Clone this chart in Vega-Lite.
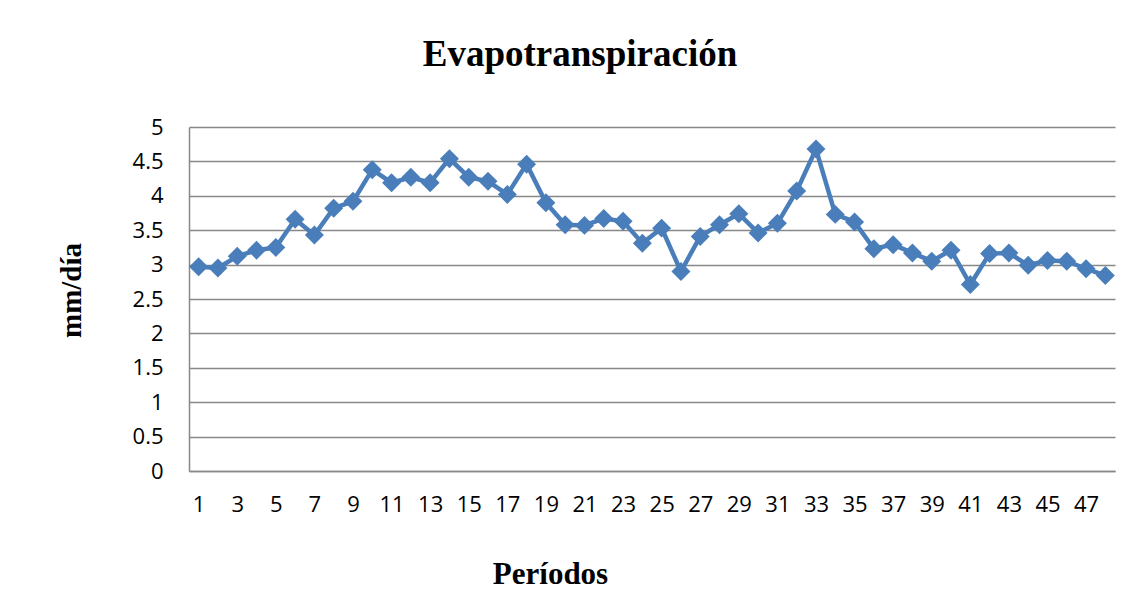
{
  "$schema": "https://vega.github.io/schema/vega-lite/v6.json",
  "autosize": {"type": "none"},
  "width": 926,
  "height": 344,
  "padding": {"left": 189, "top": 127, "right": 29, "bottom": 136},
  "background": "white",
  "title": {
    "text": "Evapotranspiración",
    "font": "Liberation Serif",
    "fontSize": 37,
    "fontWeight": "bold",
    "color": "black",
    "anchor": "middle",
    "frame": "group",
    "baseline": "alphabetic",
    "offset": 13,
    "dx": -72
  },
  "data": {
    "values": [
      {"p": 1, "v": 2.97}, {"p": 2, "v": 2.95}, {"p": 3, "v": 3.12}, {"p": 4, "v": 3.21},
      {"p": 5, "v": 3.25}, {"p": 6, "v": 3.66}, {"p": 7, "v": 3.43}, {"p": 8, "v": 3.82},
      {"p": 9, "v": 3.92}, {"p": 10, "v": 4.38}, {"p": 11, "v": 4.19}, {"p": 12, "v": 4.27},
      {"p": 13, "v": 4.19}, {"p": 14, "v": 4.54}, {"p": 15, "v": 4.27}, {"p": 16, "v": 4.21},
      {"p": 17, "v": 4.02}, {"p": 18, "v": 4.46}, {"p": 19, "v": 3.9}, {"p": 20, "v": 3.58},
      {"p": 21, "v": 3.57}, {"p": 22, "v": 3.67}, {"p": 23, "v": 3.63}, {"p": 24, "v": 3.31},
      {"p": 25, "v": 3.53}, {"p": 26, "v": 2.9}, {"p": 27, "v": 3.41}, {"p": 28, "v": 3.58},
      {"p": 29, "v": 3.74}, {"p": 30, "v": 3.46}, {"p": 31, "v": 3.6}, {"p": 32, "v": 4.07},
      {"p": 33, "v": 4.68}, {"p": 34, "v": 3.73}, {"p": 35, "v": 3.62}, {"p": 36, "v": 3.23},
      {"p": 37, "v": 3.29}, {"p": 38, "v": 3.17}, {"p": 39, "v": 3.05}, {"p": 40, "v": 3.21},
      {"p": 41, "v": 2.71}, {"p": 42, "v": 3.16}, {"p": 43, "v": 3.17}, {"p": 44, "v": 2.99},
      {"p": 45, "v": 3.06}, {"p": 46, "v": 3.05}, {"p": 47, "v": 2.94}, {"p": 48, "v": 2.84}
    ]
  },
  "encoding": {
    "x": {
      "field": "p",
      "type": "ordinal",
      "scale": {"type": "point", "padding": 0.5},
      "axis": {
        "values": [1,3,5,7,9,11,13,15,17,19,21,23,25,27,29,31,33,35,37,39,41,43,45,47],
        "labelAngle": 0,
        "labelFont": "Open Sans",
        "labelFontSize": 22,
        "labelColor": "black",
        "labelPadding": 23,
        "ticks": false,
        "grid": false,
        "domainColor": "#888888",
        "domainWidth": 1.5,
        "title": "Períodos",
        "titleFont": "Liberation Serif",
        "titleFontSize": 31,
        "titleFontWeight": "bold",
        "titleColor": "black",
        "titleX": 361,
        "titleY": 112,
        "titleAlign": "center",
        "titleBaseline": "alphabetic"
      }
    },
    "y": {
      "field": "v",
      "type": "quantitative",
      "scale": {"domain": [0, 5], "nice": false, "zero": true},
      "axis": {
        "values": [0, 0.5, 1, 1.5, 2, 2.5, 3, 3.5, 4, 4.5, 5],
        "format": ".2~f",
        "labelFont": "Open Sans",
        "labelFontSize": 22,
        "labelColor": "black",
        "labelPadding": 26,
        "ticks": false,
        "grid": true,
        "gridColor": "#888888",
        "gridWidth": 1.5,
        "domainColor": "#888888",
        "domainWidth": 1.5,
        "title": "mm/día",
        "titleFont": "Liberation Serif",
        "titleFontSize": 29,
        "titleFontWeight": "bold",
        "titleColor": "black",
        "titleAngle": -90,
        "titleX": -109,
        "titleY": 163,
        "titleAlign": "center",
        "titleBaseline": "alphabetic"
      }
    }
  },
  "layer": [
    {"mark": {"type": "line", "color": "#4a7ebb", "strokeWidth": 4.5}},
    {"mark": {"type": "point", "shape": "diamond", "filled": true, "color": "#4a7ebb", "size": 360, "opacity": 1}}
  ],
  "config": {"view": {"stroke": null}}
}
